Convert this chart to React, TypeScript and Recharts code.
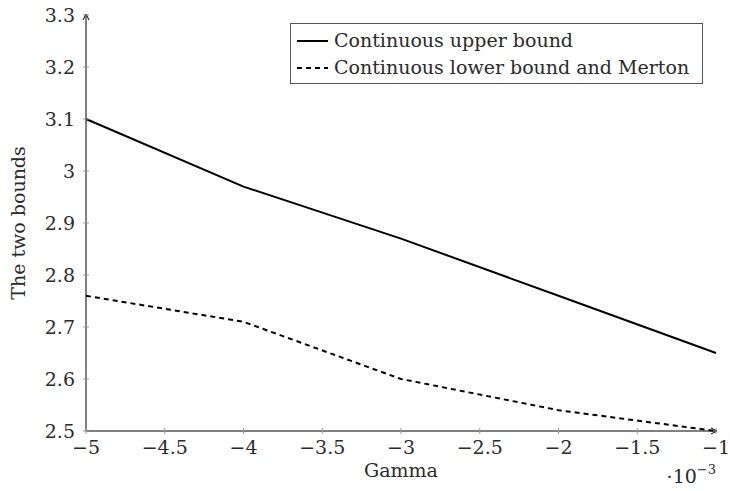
import React from "react";
import {
  LineChart,
  Line,
  XAxis,
  YAxis,
  Legend,
  ReferenceDot,
} from "recharts";

const gammaValues = [-5, -4, -3, -2, -1];
const upperBound = [3.1, 2.97, 2.87, 2.76, 2.65];
const lowerBound = [2.76, 2.71, 2.6, 2.54, 2.5];
const xTicks = [-5, -4.5, -4, -3.5, -3, -2.5, -2, -1.5, -1];
const yTicks = [2.5, 2.6, 2.7, 2.8, 2.9, 3, 3.1, 3.2, 3.3];

const FONT = "DejaVu Serif";
const FS = 19;
const TEXT = "#2a2a2a";
const TICK = "#999";

const data = gammaValues.map((g, i) => ({
  gamma: g,
  upper: upperBound[i],
  lower: lowerBound[i],
}));

const fmt = (v: number) => (v < 0 ? "\u2212" + String(-v) : String(v));

function XTick(props: any) {
  const { x, y, payload } = props;
  return (
    <g>
      <line x1={x} x2={x} y1={y - 3} y2={y + 3} stroke={TICK} strokeWidth={1} />
      <text x={x} y={y + 23} textAnchor="middle" fontFamily={FONT} fontSize={FS} fill={TEXT}>
        {fmt(payload.value)}
      </text>
    </g>
  );
}

function YTick(props: any) {
  const { x, y, payload } = props;
  return (
    <g>
      <line x1={x - 3} x2={x + 3} y1={y} y2={y} stroke={TICK} strokeWidth={1} />
      <text x={x - 11} y={y + 7} textAnchor="end" fontFamily={FONT} fontSize={FS} fill={TEXT}>
        {payload.value}
      </text>
    </g>
  );
}

const ArrowUp = (p: any) => (
  <path d={`M${p.cx - 3},${p.cy + 5} L${p.cx},${p.cy - 1} L${p.cx + 3},${p.cy + 5}`} fill="none" stroke="#000" strokeWidth={1} />
);
const ArrowRight = (p: any) => (
  <path d={`M${p.cx - 5},${p.cy - 3} L${p.cx + 1},${p.cy} L${p.cx - 5},${p.cy + 3}`} fill="none" stroke="#000" strokeWidth={1} />
);

function LegendBox() {
  const row = (dash: string | undefined, label: string) => (
    <div style={{ display: "flex", alignItems: "center", height: 27 }}>
      <svg width={32} height={10} style={{ marginRight: 5 }}>
        <line x1={0} x2={31} y1={5} y2={5} stroke="#000" strokeWidth={2} strokeDasharray={dash} />
      </svg>
      <span>{label}</span>
    </div>
  );
  return (
    <div
      style={{
        position: "absolute",
        left: 290,
        top: 23,
        width: 413,
        height: 61,
        boxSizing: "border-box",
        border: "1px solid #555",
        background: "#fff",
        padding: "3px 0 3px 6px",
        fontFamily: FONT,
        fontSize: FS,
        color: TEXT,
        lineHeight: "27px",
        whiteSpace: "nowrap",
      }}
    >
      {row(undefined, "Continuous upper bound")}
      {row("5 4", "Continuous lower bound and Merton")}
    </div>
  );
}

export default function App() {
  return (
    <div style={{ position: "absolute", left: 0, top: 0, background: "#fff" }}>
      <LineChart width={730} height={491} data={data} margin={{ top: 15, right: 14, bottom: 0, left: 0 }}>
        <XAxis
          dataKey="gamma"
          type="number"
          domain={[-5, -1]}
          ticks={xTicks}
          interval={0}
          height={60}
          tickSize={0}
          tickMargin={0}
          tick={<XTick />}
          axisLine={{ stroke: "#000", strokeWidth: 1 }}
          tickLine={false}
          label={{
            content: (p: any) => {
              const vb = p.viewBox;
              return (
                <g fontFamily={FONT} fill={TEXT}>
                  <text x={vb.x + vb.width / 2} y={vb.y + 46} textAnchor="middle" fontSize={FS}>
                    Gamma
                  </text>
                  <text x={vb.x + vb.width} y={vb.y + 52} textAnchor="end" fontSize={FS}>
                    {"\u00b710"}
                    <tspan fontSize={13} dy={-9}>{"\u22123"}</tspan>
                  </text>
                </g>
              );
            },
          }}
        />
        <YAxis
          type="number"
          domain={[2.5, 3.3]}
          ticks={yTicks}
          interval={0}
          width={86}
          tickSize={0}
          tickMargin={0}
          tick={<YTick />}
          axisLine={{ stroke: "#000", strokeWidth: 1 }}
          tickLine={false}
          label={{
            content: (p: any) => {
              const vb = p.viewBox;
              const cx = vb.x + 25;
              const cy = vb.y + vb.height / 2;
              return (
                <text
                  x={cx}
                  y={cy}
                  transform={`rotate(-90 ${cx} ${cy})`}
                  textAnchor="middle"
                  fontFamily={FONT}
                  fontSize={FS}
                  fill={TEXT}
                >
                  The two bounds
                </text>
              );
            },
          }}
        />
        <Legend
          layout="vertical"
          verticalAlign="middle"
          align="center"
          wrapperStyle={{ position: "absolute", left: 0, top: 0, width: 0, height: 0 }}
          content={() => <LegendBox />}
        />
        <Line
          type="linear"
          dataKey="upper"
          stroke="#000"
          strokeWidth={2}
          dot={false}
          isAnimationActive={false}
        />
        <Line
          type="linear"
          dataKey="lower"
          stroke="#000"
          strokeWidth={2}
          strokeDasharray="5 4"
          dot={false}
          isAnimationActive={false}
        />
        <ReferenceDot x={-5} y={3.3} ifOverflow="visible" shape={ArrowUp} />
        <ReferenceDot x={-1} y={2.5} ifOverflow="visible" shape={ArrowRight} />
      </LineChart>
    </div>
  );
}
